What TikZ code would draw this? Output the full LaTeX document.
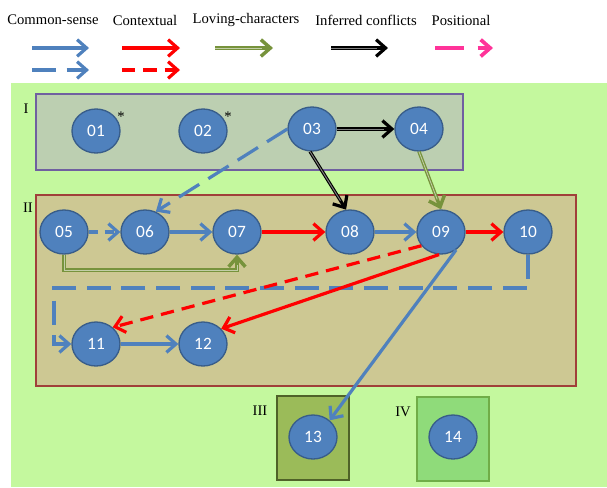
\documentclass[tikz,border=0pt]{standalone}
\usepackage{fontspec}
\setmainfont{Liberation Serif}
\newfontfamily\numfont{Carlito}
\usetikzlibrary{arrows.meta,shapes.geometric}
\definecolor{nodeblue}{HTML}{4F81BD}
\definecolor{nodeedge}{HTML}{385D8A}
\definecolor{bggreen}{HTML}{C4F89E}
\definecolor{boxone}{HTML}{BCCFB1}
\definecolor{boxoneedge}{HTML}{7060A0}
\definecolor{boxtwo}{HTML}{CDC893}
\definecolor{boxtwoedge}{HTML}{A0403A}
\definecolor{boxthree}{HTML}{9BBB59}
\definecolor{boxthreeedge}{HTML}{4F6228}
\definecolor{boxfour}{HTML}{8FDB7A}
\definecolor{boxfouredge}{HTML}{70AD47}
\definecolor{lovgreen}{HTML}{77933C}
\definecolor{pospink}{HTML}{FF3399}

\begin{document}
\begin{tikzpicture}[x=0.75pt,y=-0.75pt,line width=2.4pt,>={Straight Barb[length=2.5mm,width=4.4mm]},
  ev/.style={ellipse,draw=nodeedge,line width=1pt,fill=nodeblue,minimum width=36pt,minimum height=33pt,inner sep=0pt,text=white,font=\numfont\fontsize{13}{15}\selectfont},
  cs/.style={->,nodeblue},
  csd/.style={cs,dash pattern=on 18pt off 8pt},
  csds/.style={cs,dash pattern=on 7pt off 5pt},
  ctx/.style={->,red},
  ctxd/.style={ctx,dash pattern=on 10pt off 6pt},
  lov/.style={->,lovgreen,line width=2.6pt,postaction={draw=lovgreen!45!white,line width=0.6pt,-,shorten >=8pt}},
  inf/.style={->,black,line width=2.4pt,postaction={draw=gray,line width=0.7pt,-,shorten >=8pt}},
  posl/.style={->,pospink,line width=2.8pt,dash pattern=on 22pt off 10pt},
  lab/.style={font=\fontsize{11}{13}\selectfont}]
  \useasboundingbox (0,0) rectangle (607,487);
  % legend
  \node[lab] (tcs) at (53,20) {Common-sense};
  \node[lab] (tct) at (145,20) {Contextual};
  \node[lab] (tlv) at (246,20) {Loving-characters};
  \node[lab] (tin) at (366,20) {Inferred conflicts};
  \node[lab] (tps) at (461,20) {Positional};
  \coordinate (cs1a) at (32,48); \coordinate (cs1b) at (89,48);
  \coordinate (cs2a) at (32,70); \coordinate (cs2b) at (89,70);
  \coordinate (ct1a) at (122,48); \coordinate (ct1b) at (180,48);
  \coordinate (ct2a) at (122,70); \coordinate (ct2b) at (180,70);
  \coordinate (lva) at (215,48); \coordinate (lvb) at (273,48);
  \coordinate (ina) at (331,48); \coordinate (inb) at (388,48);
  \coordinate (psa) at (435,48); \coordinate (psb) at (493,48);
  \draw[cs] (cs1a) -- (cs1b);
  \draw[csd] (cs2a) -- (cs2b);
  \draw[ctx] (ct1a) -- (ct1b);
  \draw[ctxd] (ct2a) -- (ct2b);
  \draw[lov] (lva) -- (lvb);
  \draw[inf] (ina) -- (inb);
  \draw[posl] (psa) -- (psb);
  % boxes
  \fill[bggreen] (11,83) rectangle (607,487);
  \draw[boxoneedge,fill=boxone,line width=1.2pt] (36,94) rectangle (463,170);
  \draw[boxtwoedge,fill=boxtwo,line width=1.2pt] (36,195) rectangle (576,386);
  \draw[boxthreeedge,fill=boxthree,line width=1.2pt] (277,396) rectangle (349,480);
  \draw[boxfouredge,fill=boxfour,line width=1.2pt] (417,397) rectangle (489,481);
  \node[lab] (rI) at (26,109) {I};
  \node[lab] (rII) at (28,208) {II};
  \node[lab] (rIII) at (260,411) {III};
  \node[lab] (rIV) at (403,412) {IV};
  % events
  \node[ev] (n01) at (96,131) {01};
  \node[ev] (n02) at (203,131) {02};
  \node[ev] (n03) at (312,129) {03};
  \node[ev] (n04) at (419,129) {04};
  \node[ev] (n05) at (64,232) {05};
  \node[ev] (n06) at (145,232) {06};
  \node[ev] (n07) at (237,232) {07};
  \node[ev] (n08) at (350,232) {08};
  \node[ev] (n09) at (441,232) {09};
  \node[ev] (n10) at (528,232) {10};
  \node[ev] (n11) at (96,344) {11};
  \node[ev] (n12) at (203,344) {12};
  \node[ev] (n13) at (313,437) {13};
  \node[ev] (n14) at (453,437) {14};
  \node[lab] (s01) at (121,117) {*};
  \node[lab] (s02) at (228,117) {*};
  % links
  \coordinate (c57) at (237,270);
  \coordinate (c1011) at (54,288);
  \draw[inf] (n03) -- (n04);
  \draw[inf] (n03.265) -- (n08.100);
  \draw[lov] (n04.south) -- (n09.north);
  \draw[csd] (n03.west) -- (n06.62);
  \draw[csds] (n05) -- (n06);
  \draw[cs] (n06) -- (n07);
  \draw[ctx] (n07) -- (n08);
  \draw[cs] (n08) -- (n09);
  \draw[ctx] (n09) -- (n10);
  \draw[lov] (n05.south) |- (c57) -- (n07.south);
  \draw[csd] (n10.south) |- (c1011) |- (n11.west);
  \draw[ctxd] (n09.215) -- (n11.45);
  \draw[ctx] (n09.265) -- (n12.40);
  \draw[cs] (n09.310) -- (n13.45);
  \draw[cs] (n11) -- (n12);
\end{tikzpicture}
\end{document}
